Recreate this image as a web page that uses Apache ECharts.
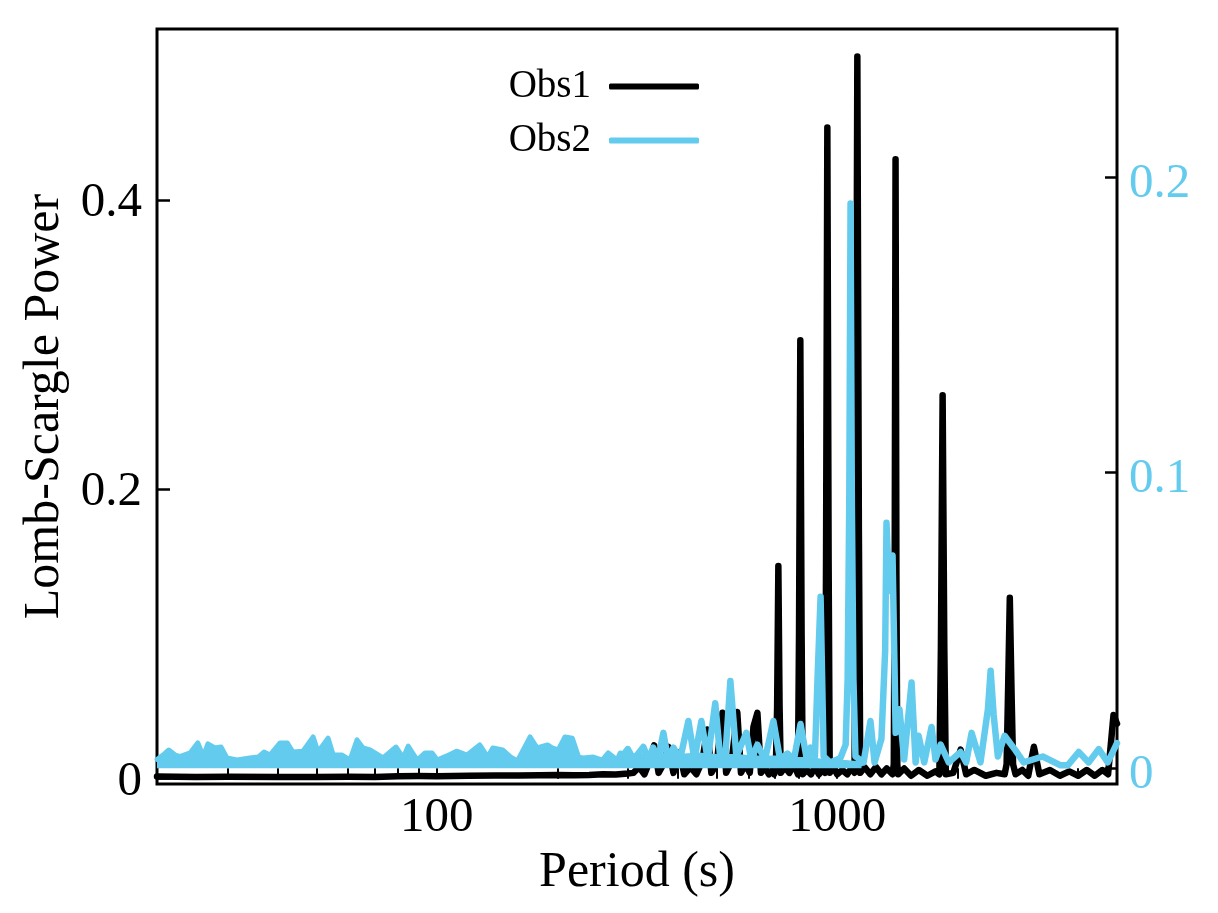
<!DOCTYPE html>
<html>
<head>
<meta charset="utf-8">
<script src="https://cdn.jsdelivr.net/npm/echarts@6/dist/echarts.min.js"></script>
<style>
html,body{margin:0;padding:0;background:#fff;}
#chart{width:1218px;height:913px;}
</style>
</head>
<body>
<div id="chart"></div>
<script>
// ---- data (period in s, Lomb-Scargle power) ----
const xTickValues = [20,30,40,50,60,70,80,90,100,200,300,400,500,600,700,800,900,1000,2000,3000,4000,5000];
const xLabelValues = [100, 1000];
const leftTickValues = [0, 0.2, 0.4];
const rightTickValues = [0, 0.1, 0.2];

const obs1Period = [20,25,30,40,50,60,70,80,90,100,120,140,160,180,200,220,240,260,280,300,
 310,320,330,340,349,358,368,379,390,404,415,430,445,460,474,485,500,517,528,545,563,575,590,605,618,632,645,660,675,690,
 696,703,708,713,718,723,740,760,780,798,803,809,815,820,840,860,880,900,920,933,938,945,952,958,980,1000,1030,1060,1090,1105,1113,1123,1133,1142,1170,1210,1250,1290,1330,1375,1385,1392,1399,1406,1413,1420,1470,1530,1600,1680,1760,1800,1816,1834,1852,1868,1950,2034,2100,2200,2350,2500,2620,2650,2672,2699,2726,2750,2790,2900,3000,3100,3200,3400,3600,3800,4000,4200,4400,4600,4750,4900,5000];
const obs1Power = [0.0015,0.0012,0.0013,0.0011,0.0012,0.0013,0.0012,0.0016,0.0018,0.0017,0.002,0.0022,0.0021,0.0023,0.0025,0.0024,0.0026,0.003,0.0028,0.0035,
 0.004,0.008,0.003,0.012,0.023,0.004,0.01,0.022,0.004,0.018,0.003,0.008,0.003,0.012,0.034,0.004,0.01,0.0455,0.004,0.012,0.046,0.004,0.01,0.004,0.036,0.0455,0.004,0.008,0.003,0.006,
 0.003,0.01,0.05,0.147,0.05,0.004,0.008,0.004,0.01,0.003,0.1,0.303,0.1,0.003,0.006,0.003,0.008,0.003,0.006,0.004,0.15,0.45,0.15,0.004,0.008,0.003,0.006,0.003,0.008,0.004,0.17,0.499,0.17,0.004,0.008,0.003,0.008,0.003,0.007,0.003,0.01,0.14,0.428,0.14,0.01,0.003,0.007,0.002,0.006,0.002,0.005,0.003,0.09,0.265,0.09,0.003,0.004,0.02,0.003,0.006,0.002,0.004,0.003,0.01,0.06,0.125,0.06,0.01,0.003,0.006,0.002,0.022,0.003,0.006,0.002,0.005,0.002,0.006,0.002,0.006,0.003,0.044,0.038];

// dense low-period noise of Obs2 (upper envelope of the band)
const obs2BandPeriod = [20.0,20.7,21.4,22.2,22.8,24.2,25.3,26.1,26.8,27.9,28.9,29.9,31.7,34.1,35.8,37.0,38.3,40.6,42.3,43.7,46.3,49.1,50.5,53.5,55.1,58.0,60.7,63.2,65.4,68.1,73.4,79.1,82.4,84.8,89.3,93.5,97.3,100.2,106,112,119,128,134,138,146,153,159,171,178,189,194,201,209,218,226,232,246,259,268,282,287,299,320,360,400,450,500,560,620,700,780,860,950,1050,1150];
const obs2BandPower = [0.003,0.0045,0.0062,0.0045,0.004,0.0052,0.0086,0.004,0.0083,0.0069,0.0072,0.0035,0.0028,0.0035,0.0038,0.0055,0.0045,0.0086,0.0086,0.0055,0.0058,0.0106,0.0055,0.0102,0.0045,0.0045,0.0028,0.0096,0.0069,0.0062,0.0035,0.0072,0.0035,0.0075,0.0028,0.0052,0.0052,0.0028,0.0042,0.0058,0.0045,0.0079,0.0038,0.0069,0.0062,0.0038,0.0025,0.0106,0.0069,0.0079,0.0069,0.0062,0.0106,0.0102,0.0038,0.0035,0.0038,0.0028,0.0052,0.0028,0.0052,0.0045,0.004,0.0045,0.004,0.0045,0.004,0.004,0.0035,0.0035,0.003,0.003,0.002,0.002,0.0015];

// individual Obs2 peaks at longer periods
const obs2Period = [290,300,310,328,338,347,357,368,378,390,405,425,440,458,475,496,510,525,541,560,593,610,632,660,693,720,751,780,810,840,858,880,893,909,925,960,1000,1019,1050,1062,1072,1080,1088,1098,1111,1164,1211,1240,1290,1318,1328,1350,1375,1400,1431,1470,1534,1570,1597,1650,1721,1760,1813,1900,2034,2100,2167,2280,2380,2417,2460,2520,2620,2792,2923,3261,3616,3766,4012,4250,4501,4741,5000];
const obs2Power = [0.004,0.0065,0.003,0.0072,0.003,0.007,0.003,0.012,0.003,0.007,0.003,0.016,0.003,0.016,0.003,0.022,0.004,0.003,0.0295,0.004,0.012,0.003,0.008,0.003,0.016,0.003,0.005,0.003,0.015,0.003,0.007,0.004,0.03,0.058,0.004,0.002,0.003,0.0035,0.008,0.03,0.09,0.191,0.09,0.03,0.004,0.002,0.016,0.002,0.01,0.04,0.083,0.06,0.072,0.012,0.02,0.003,0.029,0.002,0.011,0.002,0.014,0.003,0.008,0.002,0.0055,0.002,0.012,0.002,0.02,0.033,0.018,0.004,0.011,0.006,0.002,0.004,0.001,0.001,0.0055,0.002,0.0065,0.002,0.0085];

const pair = (xs, ys) => xs.map((x, i) => [x, ys[i]]);

const BLUE = '#63cbed';
const FONT = "'Liberation Serif','DejaVu Serif',serif";

const chart = echarts.init(document.getElementById('chart'), null, {renderer: 'canvas'});
const xBase = {
  type: 'log', logBase: 10, min: 20, max: 5000,
  axisLine: {show: false},
  splitLine: {show: false},
  minorTick: {show: false}
};
const yFmt = v => (v === 0 ? '0' : v.toFixed(1));
chart.setOption({
  animation: false,
  backgroundColor: '#fff',
  grid: {left: 157, right: 101, top: 29, bottom: 129, show: true, borderColor: '#000', borderWidth: 3, backgroundColor: 'transparent'},
  legend: {
    orient: 'vertical', align: 'right', right: 514, top: 62,
    itemWidth: 90, itemHeight: 6, itemGap: 15, icon: 'roundRect',
    data: ['Obs1', 'Obs2'],
    textStyle: {fontFamily: FONT, fontSize: 39, color: '#000', padding: [8, 13, 0, 0]}
  },
  xAxis: [
    Object.assign({}, xBase, {
      position: 'bottom',
      name: 'Period (s)', nameLocation: 'middle', nameGap: 52,
      nameTextStyle: {fontFamily: FONT, fontSize: 50, color: '#000'},
      axisTick: {show: true, inside: true, length: 6, lineStyle: {color: '#000', width: 2}, customValues: xTickValues},
      axisLabel: {show: true, fontFamily: FONT, fontSize: 49, color: '#000', margin: 10, customValues: xLabelValues,
        formatter: v => String(v)}
    }),
    Object.assign({}, xBase, {
      position: 'top',
      axisTick: {show: true, inside: true, length: 6, lineStyle: {color: '#000', width: 2}, customValues: xTickValues},
      axisLabel: {show: false}
    })
  ],
  yAxis: [
    {
      type: 'value', position: 'left', min: -0.0037, max: 0.518,
      name: 'Lomb-Scargle Power', nameLocation: 'middle', nameGap: 81,
      nameTextStyle: {fontFamily: FONT, fontSize: 50, color: '#000'},
      axisLine: {show: false}, splitLine: {show: false},
      axisTick: {show: true, inside: true, length: 13, lineStyle: {color: '#000', width: 2.5}, customValues: leftTickValues},
      axisLabel: {show: true, margin: 15, customValues: leftTickValues,
        formatter: v => '{a|' + yFmt(v) + '}',
        rich: {a: {fontFamily: FONT, fontSize: 49, color: '#000', padding: [6, 0, 0, 0]}}}
    },
    {
      type: 'value', position: 'right', min: -0.0053, max: 0.25,
      axisLine: {show: false}, splitLine: {show: false},
      axisTick: {show: true, inside: true, length: 12, lineStyle: {color: '#000', width: 2.5}, customValues: rightTickValues},
      axisLabel: {show: true, margin: 12, customValues: rightTickValues,
        formatter: v => '{a|' + yFmt(v) + '}',
        rich: {a: {fontFamily: FONT, fontSize: 49, color: BLUE, padding: [14, 0, 0, 0]}}}
    }
  ],
  series: [
    {
      name: 'Obs1', type: 'line', xAxisIndex: 0, yAxisIndex: 0,
      data: pair(obs1Period, obs1Power), showSymbol: false, symbol: 'none',
      lineStyle: {color: '#000', width: 6.5, cap: 'round', join: 'round'}, itemStyle: {color: '#000'}, z: 2
    },
    {
      name: 'Obs2', type: 'line', xAxisIndex: 0, yAxisIndex: 1,
      data: pair(obs2BandPeriod, obs2BandPower), showSymbol: false, symbol: 'none',
      lineStyle: {color: BLUE, width: 5, cap: 'round', join: 'round'}, itemStyle: {color: BLUE},
      areaStyle: {color: BLUE, opacity: 1}, z: 3
    },
    {
      name: 'Obs2', type: 'line', xAxisIndex: 0, yAxisIndex: 1,
      data: pair(obs2Period, obs2Power), showSymbol: false, symbol: 'none',
      lineStyle: {color: BLUE, width: 6.5, cap: 'round', join: 'round'}, itemStyle: {color: BLUE}, z: 4
    }
  ]
});
</script>
</body>
</html>
